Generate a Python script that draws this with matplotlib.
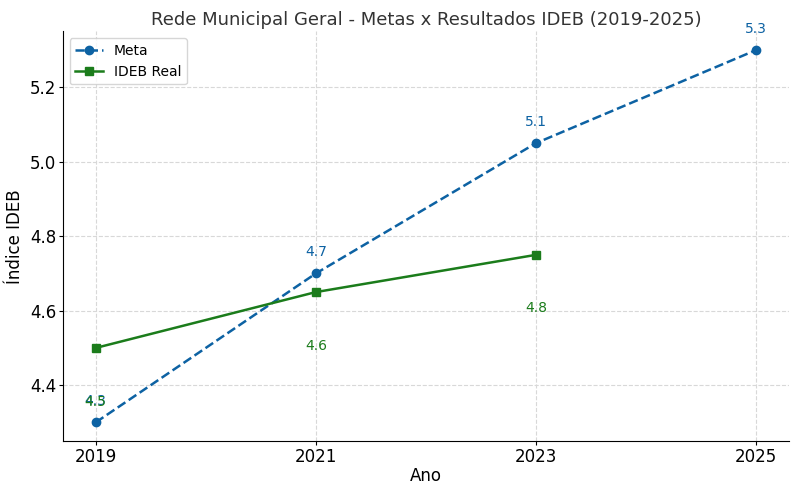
import matplotlib
matplotlib.use("Agg")
import matplotlib.pyplot as plt

anos_meta = [2019, 2021, 2023, 2025]
meta = [4.3, 4.7, 5.05, 5.3]
meta_labels = ["4.3", "4.7", "5.1", "5.3"]

anos_real = [2019, 2021, 2023]
real = [4.5, 4.65, 4.75]
real_labels = ["4.5", "4.6", "4.8"]

xticks = [2019, 2021, 2023, 2025]

blue = "#0d62a3"
green = "#1b7c1b"

fig = plt.figure(figsize=(7.96, 4.96), dpi=100)
ax = fig.add_axes([0.0788, 0.1109, 0.9124, 0.8256])

ax.plot(anos_meta, meta, linestyle="--", marker="o", color=blue, linewidth=1.8, markersize=6, label="Meta")
ax.plot(anos_real, real, linestyle="-", marker="s", color=green, linewidth=1.8, markersize=6, label="IDEB Real")

for x, y, t in zip(anos_meta, meta, meta_labels):
    ax.annotate(t, (x, y), xytext=(0, 15.4), textcoords="offset points",
                ha="center", va="center", color=blue, fontsize=10)
for x, y, t in zip(anos_real, real, real_labels):
    ax.annotate(t, (x, y), xytext=(0, -38.6), textcoords="offset points",
                ha="center", va="center", color=green, fontsize=10)

ax.set_xticks(xticks)
ax.set_xticklabels([str(x) for x in xticks])
ax.tick_params(labelsize=12, length=3, pad=1.8)
ax.set_title("Rede Municipal Geral - Metas x Resultados IDEB (2019-2025)", fontsize=13, color="#333333", pad=4.5)
ax.set_xlabel("Ano", fontsize=12, labelpad=1)
ax.set_ylabel("Índice IDEB", fontsize=12, labelpad=4)
ax.grid(True, linestyle="--", color="#d8d8d8", linewidth=0.8)
ax.spines["top"].set_visible(False)
ax.spines["right"].set_visible(False)
ax.legend(loc="upper left", fontsize=10)

fig.savefig("out.png", dpi=100)
